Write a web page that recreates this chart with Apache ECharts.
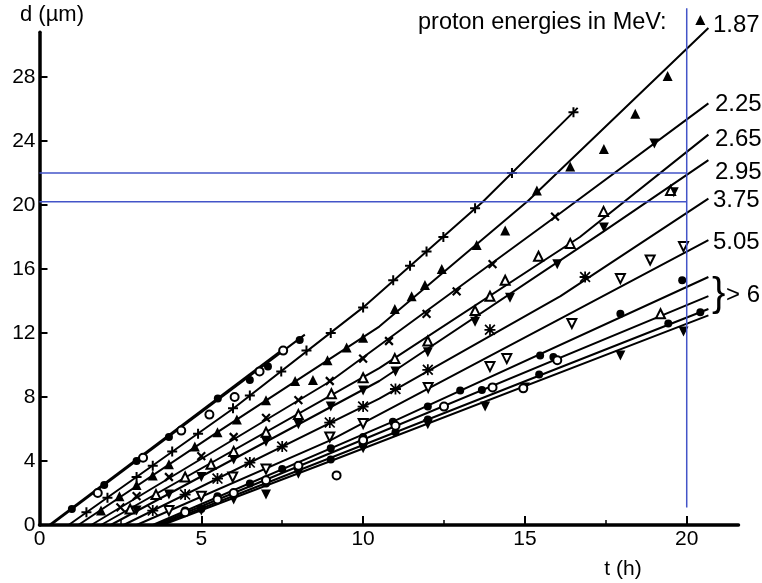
<!DOCTYPE html>
<html>
<head>
<meta charset="utf-8">
<script src="https://cdn.jsdelivr.net/npm/echarts@6/dist/echarts.min.js"></script>
<style>
  html, body { margin: 0; padding: 0; background: #fff; }
  #chart { width: 762px; height: 583px; }
</style>
</head>
<body>
<div id="chart"></div>
<script>
// ---- axes ----
const tLabels = [0, 5, 10, 15, 20];
const tMajorTicks = [5, 10, 15, 20];
const tMinorTicks = [2.5, 7.5, 12.5, 17.5];
const dLabels = [0, 4, 8, 12, 16, 20, 24, 28];
const dTicks = [4, 8, 12, 16, 20, 24, 28];

// ---- reference levels ----
const refDepths = [22, 20.2];     // µm
const refTime = 20;               // h
const refTimeSpan = [1.1, 32.3];  // µm range of the vertical guide

// ---- track length d (µm) vs etching time t (h), one curve per proton energy ----
const energies = ['1.87', '2.25', '2.65', '2.95', '3.75', '5.05'];
const curveShortA = [[0.3, 0], [7.53, 11.0]];
const curveShortB = [[0.35, 0], [8.2, 11.9]];
const curveSteep = [[0.9, 0], [6, 7.3], [10, 13.6], [13.7, 20.2], [16.63, 26.07]];
const curve187 = [[1.2, 0], [5.5, 5.8], [10.5, 12.4], [15.1, 20.27], [20.67, 31.06]];
const curve225 = [[1.6, 0], [9, 9.0], [15.9, 19.2], [20.67, 26.35]];
const curve265 = [[1.9, 0], [10.5, 9.8], [16.7, 18.0], [20.67, 24.4]];
const curve295 = [[2.2, 0], [10.5, 9.0], [17.4, 18.3], [20.67, 22.8]];
const curve375 = [[2.6, 0], [10.5, 7.9], [16.1, 14.3], [20.67, 20.4]];
const curve505 = [[3.0, 0], [9, 5.3], [16.1, 12.9], [20.67, 17.8]];
const curveHighA = [[3.5, 0], [10.92, 6.46], [20.67, 15.5]];
const curveHighB = [[3.6, 0], [9, 4.5], [20.67, 14.3]];
const curveHighC = [[3.7, 0], [9, 4.2], [20.67, 13.5]];
const curveHighD = [[3.8, 0], [9, 4.0], [20.67, 13.1]];

// ---- measured points, grouped by marker ----
const ptsPlus = [[1.45, 0.8], [2.1, 1.7], [3.0, 3.0], [3.5, 3.7], [4.1, 4.6], [4.9, 5.7], [5.98, 7.3], [6.5, 8.1],
  [7.47, 9.6], [8.25, 10.9], [9.0, 12.0], [10.0, 13.6], [10.93, 15.3], [11.45, 16.2], [11.96, 17.1],
  [12.48, 18.0], [13.46, 19.8], [14.6, 22.0], [16.5, 25.8]];
const ptsTriUp = [[1.9, 0.9], [2.47, 1.8], [3.0, 2.5], [3.5, 3.1], [4.0, 3.8], [4.8, 4.9], [5.5, 5.8], [6.1, 6.6],
  [7.0, 7.8], [7.9, 9.0], [8.45, 9.06], [8.9, 10.3], [9.49, 11.1], [10.0, 11.7], [10.98, 13.5], [11.5, 14.3],
  [11.91, 15.0], [12.43, 16.0], [13.51, 17.5], [14.39, 18.4], [15.37, 20.9], [16.4, 22.4], [17.44, 23.5],
  [18.41, 25.7], [19.41, 28.06], [20.42, 31.56]];
const ptsCross = [[2.5, 1.1], [3.0, 1.8], [4.0, 3.0], [5.0, 4.3], [6.0, 5.5], [7.0, 6.7], [8.0, 7.8], [8.97, 9.0],
  [10.0, 10.4], [10.8, 11.5], [11.96, 13.2], [12.89, 14.6], [14.0, 16.3], [15.93, 19.27]];
const ptsTriOpen = [[2.8, 1.0], [3.6, 1.9], [4.5, 3.0], [5.3, 3.8], [6.0, 4.6], [7.0, 5.8], [8.0, 6.9], [9.02, 8.2],
  [10.0, 9.2], [10.98, 10.4], [12.0, 11.5], [13.46, 13.4], [13.92, 14.3], [14.39, 15.3], [15.42, 16.8],
  [16.4, 17.6], [17.43, 19.6], [19.5, 20.9], [19.19, 13.2]];
const ptsTriDown = [[3.0, 0.9], [4.0, 1.9], [5.0, 3.0], [6.0, 4.1], [7.0, 5.2], [8.0, 6.3], [9.0, 7.4], [10.0, 8.4],
  [11.0, 9.6], [12.0, 10.8], [13.46, 12.7], [14.54, 14.2], [16.0, 16.3], [17.44, 18.6], [19.6, 20.8],
  [19.0, 23.85], [5.0, 0.9], [6.0, 1.6], [7.0, 1.9], [8.0, 3.2], [10.0, 4.8], [12.0, 6.3], [13.77, 7.4],
  [15.0, 8.6], [17.95, 10.6], [19.9, 12.1]];
const ptsAsterisk = [[3.5, 0.9], [4.5, 1.9], [5.5, 2.9], [6.5, 3.9], [7.5, 4.9], [8.97, 6.4], [10.0, 7.4],
  [11.0, 8.5], [12.0, 9.7], [13.92, 12.2], [16.86, 15.5]];
const ptsTriDownOpen = [[4.0, 0.9], [5.0, 1.8], [5.97, 3.0], [7.0, 3.5], [8.97, 5.5], [10.0, 6.35], [12.01, 8.6],
  [13.92, 9.9], [14.44, 10.4], [16.45, 12.6], [17.95, 15.4], [18.87, 16.56], [19.9, 17.4]];
const ptsDot = [[1.0, 1.0], [2.0, 2.5], [3.0, 4.0], [4.0, 5.5], [5.51, 7.9], [6.5, 9.06], [7.06, 9.9], [8.04, 11.56],
  [4.5, 0.9], [5.5, 1.8], [6.5, 2.6], [7.5, 3.5], [9.0, 4.8], [10.0, 5.5], [10.92, 6.46], [12.0, 7.4], [13.0, 8.4],
  [15.47, 10.6], [15.88, 10.5], [17.95, 13.2], [19.86, 15.3],
  [5.0, 1.0], [6.0, 1.9], [7.0, 2.6], [9.0, 4.1], [10.0, 5.0], [11.0, 5.8], [12.0, 6.6], [13.67, 8.44],
  [15.44, 9.4], [19.43, 12.6], [20.42, 13.3]];
const ptsRing = [[1.8, 2.0], [3.2, 4.2], [4.38, 5.9], [5.25, 6.9], [6.03, 8.0], [6.8, 9.6], [7.53, 10.9],
  [4.5, 0.8], [5.5, 1.6], [6.0, 2.0], [7.0, 2.8], [8.0, 3.7], [9.18, 3.1], [10.0, 5.3], [11.0, 6.2],
  [12.5, 7.4], [14.0, 8.6], [14.95, 8.54], [16.0, 10.3]];

// ---- marker shapes ----
const PLUS = 'path://M4,0h2v10h-2zM0,4h10v2h-10z';
const STAR = 'path://M4.2,0h1.6v10h-1.6zM0,4.2h10v1.6h-10zM0,1.1L1.1,0L10,8.9L8.9,10zM8.9,0L10,1.1L1.1,10L0,8.9z';

const INK = '#000';
const BLUE = '#4354c8';
const FONT = '"Liberation Sans", Arial, Helvetica, sans-serif';

const curves = [curveShortA, curveShortB, curveSteep, curve187, curve225, curve265, curve295,
  curve375, curve505, curveHighA, curveHighB, curveHighC, curveHighD];

const series = [];
curves.forEach(c => series.push({
  type: 'line', data: c, symbol: 'none', smooth: false,
  lineStyle: { color: INK, width: 2, join: 'round' }, clip: false, silent: true, z: 2
}));

function markers(data, symbol, size, rotate, hollow) {
  return {
    type: 'scatter', data, symbol, symbolSize: size, symbolRotate: rotate || 0,
    itemStyle: hollow ? { color: INK, borderColor: INK, borderWidth: 1.8, opacity: 1 } : { color: INK, opacity: 1 },
    clip: false, silent: true, z: 3
  };
}
series.push(markers(ptsPlus, PLUS, 10));
series.push(markers(ptsCross, PLUS, 11, 45));
series.push(markers(ptsAsterisk, STAR, 11));
series.push(markers(ptsTriUp, 'triangle', 10));
series.push(markers(ptsTriDown, 'triangle', 10, 180));
series.push(markers(ptsTriOpen, 'emptyTriangle', 9, 0, true));
series.push(markers(ptsTriDownOpen, 'emptyTriangle', 9, 180, true));
series.push(markers(ptsDot, 'circle', 8));
series.push(markers(ptsRing, 'emptyCircle', 8, 0, true));

// guide lines
refDepths.forEach(d => series.push({
  type: 'line', data: [[0, d], [refTime, d]], symbol: 'none',
  lineStyle: { color: BLUE, width: 1.5 }, clip: false, silent: true, z: 4
}));
series.push({
  type: 'line', data: [[refTime, refTimeSpan[0]], [refTime, refTimeSpan[1]]], symbol: 'none',
  lineStyle: { color: BLUE, width: 1.5 }, clip: false, silent: true, z: 4
});

const labelStyle = (text, x, y, size, align) => ({
  type: 'text', x, y, z: 10, silent: true,
  style: { text, fill: '#000', fontSize: size, fontFamily: FONT, textAlign: align || 'left', textVerticalAlign: 'middle' }
});

const energyY = [25, 104, 139, 172, 200, 242];
const energyX = [713, 715, 715, 715, 713, 713];

const chart = echarts.init(document.getElementById('chart'), null, { renderer: 'canvas' });
chart.setOption({
  animation: false,
  backgroundColor: '#fff',
  grid: { left: 39.5, right: 23.5, top: 32.2, bottom: 58, containLabel: false },
  xAxis: [{
    type: 'value', min: 0, max: 21.6, interval: 5,
    axisLine: { show: true, lineStyle: { color: '#000', width: 3.5 } },
    axisTick: { show: true, inside: true, length: 9, customValues: tMajorTicks, lineStyle: { color: '#000', width: 2 } },
    axisLabel: { customValues: tLabels, color: '#000', fontSize: 21, fontFamily: FONT, margin: 4 },
    splitLine: { show: false }
  }, {
    type: 'value', min: 0, max: 21.6, position: 'bottom',
    axisLine: { show: false },
    axisTick: { show: true, inside: true, length: 5, customValues: tMinorTicks, lineStyle: { color: '#000', width: 1.5 } },
    axisLabel: { show: false },
    splitLine: { show: false }
  }],
  yAxis: {
    type: 'value', min: 0, max: 30.8, interval: 4,
    axisLine: { show: true, lineStyle: { color: '#000', width: 3.5 } },
    axisTick: { show: true, inside: true, length: 8, customValues: dTicks, lineStyle: { color: '#000', width: 2 } },
    axisLabel: { customValues: dLabels, color: '#000', fontSize: 21, fontFamily: FONT, margin: 4 },
    splitLine: { show: false }
  },
  series,
  graphic: [
    labelStyle('d (µm)', 20, 15, 22),
    labelStyle('t (h)', 623, 569, 21, 'center'),
    labelStyle('proton energies in MeV:', 418, 23, 23.5),
    ...energies.map((e, i) => labelStyle(e, energyX[i], energyY[i], 24)),
    labelStyle('> 6', 726, 295, 24),
    labelStyle('}', 712, 295, 40)
  ]
});
</script>
</body>
</html>
